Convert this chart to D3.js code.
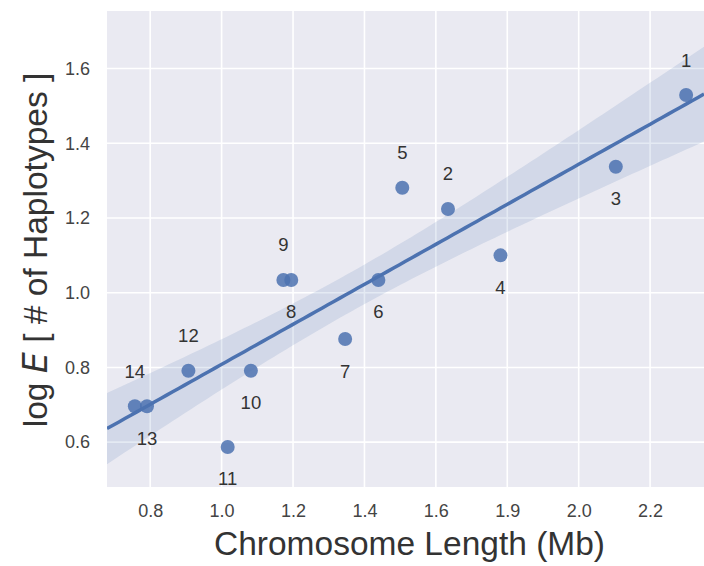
<!DOCTYPE html>
<html>
<head>
<meta charset="utf-8">
<script src="https://cdnjs.cloudflare.com/ajax/libs/d3/7.8.5/d3.min.js"></script>
<style>
  body { margin: 0; background: #fff; }
  text { font-family: "Liberation Sans", Arial, sans-serif; }
</style>
</head>
<body>
<div id="chart"></div>
<script>
// chromosome number, length (Mb), log E
const chromosomes = [1, 2, 3, 4, 5, 6, 7, 8, 9, 10, 11, 12, 13, 14];
const lengthMb = [2.301, 1.634, 2.104, 1.781, 1.506, 1.439, 1.346, 1.195, 1.173, 1.082, 1.017, 0.907, 0.791, 0.757];
const logE = [1.529, 1.224, 1.337, 1.100, 1.281, 1.034, 0.876, 1.034, 1.034, 0.791, 0.587, 0.791, 0.696, 0.696];
const labelSide = ["above", "above", "below", "below", "above", "below", "below", "below", "above", "below", "below", "above", "below", "above"];

const xTicks = [0.8, 1.0, 1.2, 1.4, 1.6, 1.8, 2.0, 2.2];
const xTickLabels = ["0.8", "1.0", "1.2", "1.4", "1.6", "1.9", "2.0", "2.2"];
const yTicks = [0.6, 0.8, 1.0, 1.2, 1.4, 1.6];

const width = 704, height = 566;
const margin = { top: 11, right: 0, bottom: 79, left: 107 };
const blue = "#4C72B0";

const svg = d3.select("#chart").append("svg")
  .attr("width", width)
  .attr("height", height);

const x = d3.scaleLinear().domain([0.679, 2.351]).range([margin.left, width - margin.right]);
const y = d3.scaleLinear().domain([0.48, 1.754]).range([height - margin.bottom, margin.top]);

// background
svg.append("rect")
  .attr("x", margin.left)
  .attr("y", margin.top)
  .attr("width", width - margin.right - margin.left)
  .attr("height", height - margin.bottom - margin.top)
  .attr("fill", "#EAEAF2");

svg.append("defs").append("clipPath").attr("id", "plot")
  .append("rect")
  .attr("x", margin.left)
  .attr("y", margin.top)
  .attr("width", width - margin.right - margin.left)
  .attr("height", height - margin.bottom - margin.top);

// grid
svg.append("g")
  .selectAll("line.vx")
  .data(xTicks)
  .enter().append("line")
  .attr("x1", d => x(d)).attr("x2", d => x(d))
  .attr("y1", margin.top).attr("y2", height - margin.bottom)
  .attr("stroke", "#fff").attr("stroke-width", 1.6);

svg.append("g")
  .selectAll("line.hy")
  .data(yTicks)
  .enter().append("line")
  .attr("x1", margin.left).attr("x2", width - margin.right)
  .attr("y1", d => y(d)).attr("y2", d => y(d))
  .attr("stroke", "#fff").attr("stroke-width", 1.6);

// tick labels
const xAxis = d3.axisBottom(x).tickValues(xTicks)
  .tickFormat((d, i) => xTickLabels[i]).tickSize(0).tickPadding(17);
svg.append("g")
  .attr("transform", `translate(0,${height - margin.bottom})`)
  .call(xAxis)
  .call(g => g.select(".domain").remove())
  .selectAll("text")
  .attr("font-size", 18).attr("fill", "#444")
  .style("font-family", "Liberation Sans, Arial, sans-serif");

const yAxis = d3.axisLeft(y).tickValues(yTicks)
  .tickFormat(d3.format(".1f")).tickSize(0).tickPadding(17);
svg.append("g")
  .attr("transform", `translate(${margin.left},0)`)
  .call(yAxis)
  .call(g => g.select(".domain").remove())
  .selectAll("text")
  .attr("font-size", 18).attr("fill", "#444")
  .style("font-family", "Liberation Sans, Arial, sans-serif");

// regression fit with confidence band
const n = lengthMb.length;
const mx = d3.mean(lengthMb), my = d3.mean(logE);
const sxx = d3.sum(lengthMb, v => (v - mx) ** 2);
const sxy = d3.sum(lengthMb.map((v, i) => (v - mx) * (logE[i] - my)));
const slope = sxy / sxx;
const intercept = my - slope * mx;
const resid = lengthMb.map((v, i) => logE[i] - (intercept + slope * v));
const s = Math.sqrt(d3.sum(resid, r => r * r) / (n - 2));
const crit = 1.65;

const grid = d3.range(0, 101).map(i => x.domain()[0] + (x.domain()[1] - x.domain()[0]) * i / 100);
const band = grid.map(g => {
  const fit = intercept + slope * g;
  const se = s * Math.sqrt(1 / n + (g - mx) ** 2 / sxx);
  return { x: g, fit: fit, lo: fit - crit * se, hi: fit + crit * se };
});

const plot = svg.append("g").attr("clip-path", "url(#plot)");

plot.append("path")
  .datum(band)
  .attr("d", d3.area().x(d => x(d.x)).y0(d => y(d.lo)).y1(d => y(d.hi)))
  .attr("fill", blue).attr("fill-opacity", 0.15);

// points
plot.selectAll("circle")
  .data(chromosomes)
  .enter().append("circle")
  .attr("cx", (d, i) => x(lengthMb[i]))
  .attr("cy", (d, i) => y(logE[i]))
  .attr("r", 7)
  .attr("fill", blue).attr("fill-opacity", 0.85);

plot.append("path")
  .datum(band)
  .attr("d", d3.line().x(d => x(d.x)).y(d => y(d.fit)))
  .attr("fill", "none").attr("stroke", blue).attr("stroke-width", 3.5);

// point labels
svg.append("g")
  .selectAll("text")
  .data(chromosomes)
  .enter().append("text")
  .attr("x", (d, i) => x(lengthMb[i]))
  .attr("y", (d, i) => y(logE[i]) + (labelSide[i] === "above" ? -35 : 32))
  .attr("dy", "0.35em")
  .attr("text-anchor", "middle")
  .attr("font-size", 18.5).attr("fill", "#333")
  .text(d => d);

// axis titles
svg.append("text")
  .attr("x", (margin.left + width - margin.right) / 2 + 4)
  .attr("y", 555)
  .attr("text-anchor", "middle")
  .attr("font-size", 33.5).attr("fill", "#333")
  .text("Chromosome Length (Mb)");

const yl = svg.append("text")
  .attr("transform", `translate(47,${(margin.top + height - margin.bottom) / 2 + 1}) rotate(-90)`)
  .attr("text-anchor", "middle")
  .attr("font-size", 33.5).attr("fill", "#333");
yl.append("tspan").text("log ");
yl.append("tspan").attr("font-style", "italic").style("font-family", "DejaVu Sans, sans-serif").text("E");
yl.append("tspan").text(" [ # of Haplotypes ]");
</script>
</body>
</html>
